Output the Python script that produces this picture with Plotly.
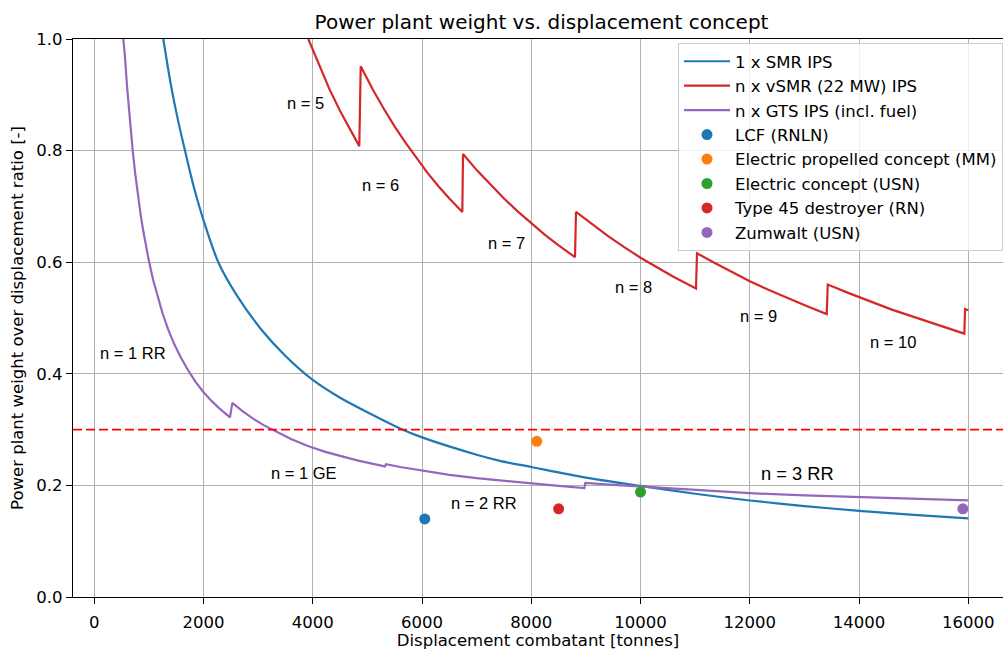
import plotly.graph_objects as go

# ---------------- data ----------------
SMR_X = [1263, 1400, 1520, 1660, 1800, 2000, 2270, 2600, 3064, 3500, 4000, 4500,
         5000, 5596, 6000, 7000, 7427, 8000, 9000, 10000, 11000, 12000, 13000,
         14000, 15000, 16000]
SMR_Y = [1.0, 0.919, 0.860, 0.80, 0.743, 0.675, 0.60, 0.542, 0.4785, 0.432, 0.389,
         0.357, 0.331, 0.302, 0.286, 0.255, 0.244, 0.233, 0.214, 0.199, 0.185,
         0.173, 0.163, 0.1545, 0.147, 0.141]

VSMR_X = [3918, 4100, 4300, 4500, 4700, 4851,
          4877, 5100, 5300, 5500, 5700, 5900, 6100, 6300, 6500, 6737,
          6750, 7000, 7250, 7500, 7750, 8000, 8250, 8500, 8800,
          8818, 9100, 9400, 9700, 10000, 10300, 10600, 11015,
          11033, 11350, 11700, 12000, 12350, 12700, 13050, 13408,
          13427, 13800, 14200, 14600, 15000, 15450, 15927,
          15940, 16000]
VSMR_Y = [1.0, 0.956, 0.911, 0.871, 0.834, 0.808,
          0.951, 0.909, 0.875, 0.843, 0.814, 0.786, 0.760, 0.736, 0.714, 0.690,
          0.794, 0.765, 0.739, 0.714, 0.691, 0.670, 0.649, 0.630, 0.609,
          0.690, 0.669, 0.647, 0.627, 0.608, 0.591, 0.574, 0.553,
          0.616, 0.599, 0.581, 0.566, 0.550, 0.535, 0.521, 0.507,
          0.560, 0.545, 0.530, 0.515, 0.502, 0.487, 0.472,
          0.516, 0.514]

GTS_X = [531, 560, 600, 650, 703, 750, 800, 850, 900, 950, 1000, 1075, 1150, 1250,
         1350, 1450, 1575, 1700, 1850, 2000, 2150, 2300, 2484,
         2527, 2700, 2900, 3100, 3350, 3600, 3900, 4200, 4500, 4850, 5320,
         5340, 5600, 6000, 6500, 7000, 7500, 8000, 8500, 8970,
         8990, 9500, 10000, 11000, 12000, 13000, 14000, 15000, 16000]
GTS_Y = [1.0, 0.97, 0.914, 0.854, 0.80, 0.758, 0.719, 0.684, 0.654, 0.626, 0.602,
         0.569, 0.541, 0.508, 0.480, 0.456, 0.431, 0.409, 0.386, 0.367, 0.351,
         0.337, 0.322,
         0.348, 0.334, 0.320, 0.308, 0.295, 0.283, 0.271, 0.261, 0.253, 0.244, 0.234,
         0.238, 0.233, 0.227, 0.219, 0.213, 0.208, 0.203, 0.199, 0.195,
         0.2046, 0.201, 0.198, 0.192, 0.186, 0.182, 0.179, 0.176, 0.173]

POINT_NAMES = ["LCF (RNLN)", "Electric propelled concept (MM)",
               "Electric concept (USN)", "Type 45 destroyer (RN)", "Zumwalt (USN)"]
POINT_X = [6050, 8100, 10000, 8500, 15900]
POINT_Y = [0.140, 0.279, 0.188, 0.158, 0.158]

LIMIT_RATIO = 0.3

LABEL_TEXT = ["n = 5", "n = 6", "n = 7", "n = 8", "n = 9", "n = 10",
              "n = 1 RR", "n = 1 GE", "n = 2 RR", "n = 3 RR"]
LABEL_X = [3870, 5230, 7537, 9868, 12150, 14627, 708, 3833, 7138, 12882]
LABEL_Y = [0.886, 0.739, 0.635, 0.556, 0.5036, 0.4565, 0.4368, 0.223, 0.169, 0.2207]
LABEL_SIZE = [16.5, 16.5, 16.5, 16.5, 16.5, 16.5, 16.5, 16.5, 16.5, 18.3]

X_TICKS = [0, 2000, 4000, 6000, 8000, 10000, 12000, 14000, 16000]
Y_TICKS = [0.0, 0.2, 0.4, 0.6, 0.8, 1.0]

# ---------------- styling ----------------
BLUE, ORANGE, GREEN, RED, PURPLE = "#1f77b4", "#ff7f0e", "#2ca02c", "#d62728", "#9467bd"
POINT_COLORS = [BLUE, ORANGE, GREEN, RED, PURPLE]
FONT = "DejaVu Sans, Verdana, sans-serif"
ANN_FONT = "Liberation Sans, Arial, sans-serif"

fig = go.Figure()
fig.add_trace(go.Scatter(x=SMR_X, y=SMR_Y, mode="lines", name="1 x SMR IPS",
                         line=dict(color=BLUE, width=2.2, shape="spline", smoothing=0.8)))
fig.add_trace(go.Scatter(x=VSMR_X, y=VSMR_Y, mode="lines", name="n x vSMR (22 MW) IPS",
                         line=dict(color=RED, width=2.2)))
fig.add_trace(go.Scatter(x=GTS_X, y=GTS_Y, mode="lines", name="n x GTS IPS (incl. fuel)",
                         line=dict(color=PURPLE, width=2.2)))
for name, px_, py_, c in zip(POINT_NAMES, POINT_X, POINT_Y, POINT_COLORS):
    fig.add_trace(go.Scatter(x=[px_], y=[py_], mode="markers", name=name,
                             marker=dict(color=c, size=11, line=dict(width=0))))

fig.add_shape(type="line", xref="paper", x0=0, x1=1, yref="y", y0=LIMIT_RATIO, y1=LIMIT_RATIO,
              line=dict(color="#ff0000", width=1.8, dash="9px,4px"), layer="above")

for t, x, y, s in zip(LABEL_TEXT, LABEL_X, LABEL_Y, LABEL_SIZE):
    fig.add_annotation(x=x, y=y, text=t, showarrow=False, xanchor="center", yanchor="middle",
                       font=dict(family=ANN_FONT, size=s, color="black"))

fig.update_layout(
    width=1003, height=650,
    margin=dict(l=73, r=0, t=38.7, b=52.7, autoexpand=False),
    paper_bgcolor="white", plot_bgcolor="white",
    font=dict(family=FONT, size=16.5, color="black"),
    title=dict(text="Power plant weight vs. displacement concept", xref="container",
               x=0.5399, xanchor="center", yref="container", y=1 - 21.7 / 650,
               yanchor="middle", font=dict(family=FONT, size=20, color="black")),
    showlegend=True,
    legend=dict(x=1.0, xanchor="right", y=0.9928, yanchor="top",
                bgcolor="rgba(255,255,255,0.8)", bordercolor="#cccccc", borderwidth=1,
                font=dict(family=FONT, size=16.5, color="black"), itemwidth=46,
                tracegroupgap=0),
)
fig.update_xaxes(range=[-390, 16635], tickvals=X_TICKS, ticktext=[str(v) for v in X_TICKS],
                 showgrid=True, gridcolor="#b0b0b0", gridwidth=1.2, zeroline=False,
                 showline=True, linecolor="black", linewidth=1.3, mirror=True,
                 ticks="outside", ticklen=6, tickwidth=1.3, tickcolor="black",
                 ticklabelstandoff=4,
                 tickfont=dict(family=FONT, size=16.5, color="black"),
                 title=dict(text="Displacement combatant [tonnes]", standoff=1,
                            font=dict(family=FONT, size=16.5, color="black")),
                 automargin=False)
fig.update_yaxes(range=[0, 1.0], tickvals=Y_TICKS, ticktext=[f"{v:.1f}" for v in Y_TICKS],
                 showgrid=True, gridcolor="#b0b0b0", gridwidth=1.2, zeroline=False,
                 showline=True, linecolor="black", linewidth=1.3, mirror=False,
                 ticks="outside", ticklen=6, tickwidth=1.3, tickcolor="black",
                 tickfont=dict(family=FONT, size=16.5, color="black"),
                 title=dict(text="Power plant weight over displacement ratio [-]", standoff=8,
                            font=dict(family=FONT, size=16.5, color="black")),
                 automargin=False)

fig.write_html("out.html")
